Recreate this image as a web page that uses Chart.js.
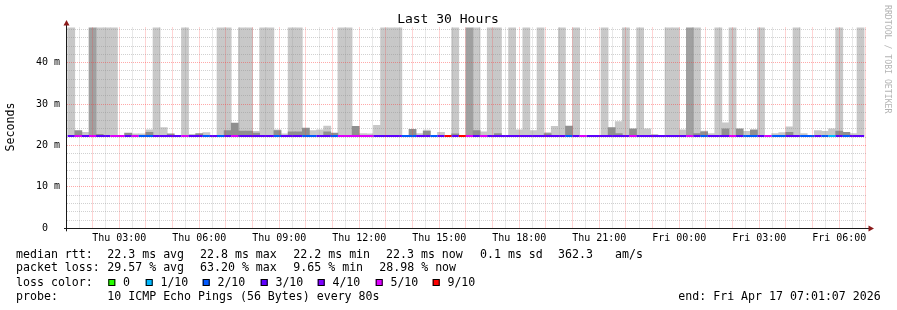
<!DOCTYPE html>
<html><head><meta charset="utf-8">
<script src="https://cdn.jsdelivr.net/npm/chart.js@4/dist/chart.umd.min.js"></script>
<style>html,body{margin:0;padding:0;background:#fff}canvas{display:block}</style>
</head><body>
<canvas id="c" width="897" height="310"></canvas>
<script>
// ---- time frame (hours since Thu 00:00) ----
const viewStart = 1.039;          // left edge of plot
const viewEnd = 31.039;           // right edge of plot
const firstBinStart = 1.064;      // first 16-minute consolidation bin
const binHours = 16 / 60;

// ---- x tick labels ----
const xTickHours = [3, 6, 9, 12, 15, 18, 21, 24, 27, 30];
const xTickLabels = ['Thu 03:00','Thu 06:00','Thu 09:00','Thu 12:00','Thu 15:00','Thu 18:00','Thu 21:00','Fri 00:00','Fri 03:00','Fri 06:00'];

// ---- y tick labels (ms) ----
const yTickValues = [0, 10, 20, 30, 40];
const yTickLabels = ['0  ', '10 m', '20 m', '30 m', '40 m'];
const yMax = 48.5;

// ---- median rtt per bin (ms) ----
const median = [
22.3,22.3,22.3,22.3,22.3,22.3,22.3,22.3,22.3,22.3,
22.3,22.3,22.3,22.3,22.3,22.3,22.3,22.3,22.3,22.3,
22.3,22.3,22.3,22.3,22.3,22.3,22.3,22.3,22.3,22.3,
22.3,22.3,22.3,22.3,22.3,22.3,22.3,22.3,22.3,22.3,
22.3,22.3,22.3,22.3,22.3,22.3,22.3,22.3,22.3,22.3,
22.3,22.3,22.3,22.3,22.3,22.3,22.3,22.3,22.3,22.3,
22.3,22.3,22.3,22.3,22.3,22.3,22.3,22.3,22.3,22.3,
22.3,22.3,22.3,22.3,22.3,22.3,22.3,22.3,22.3,22.3,
22.3,22.3,22.3,22.3,22.3,22.3,22.3,22.3,22.3,22.3,
22.3,22.3,22.3,22.3,22.3,22.3,22.3,22.3,22.3,22.3,
22.3,22.3,22.3,22.3,22.3,22.3,22.3,22.3,22.3,22.3,
22.3,22.3];

// ---- outer smoke top per bin (ms), null = none ----
const smokeTop = [
50,null,23.2,null,50,50,50,null,null,22.8,
22.8,23.8,50,24.3,null,null,50,22.7,null,23.1,
null,50,50,null,50,50,23.4,50,50,23.8,
22.8,50,50,null,23.6,23.8,24.7,null,50,50,
null,22.9,22.8,24.9,50,50,50,null,null,22.9,
23.7,null,23.2,null,50,null,null,50,23.3,50,
50,null,50,23.8,50,23.6,50,23.1,24.6,50,
null,50,null,null,null,50,null,25.8,50,null,
50,24.0,22.7,null,50,50,23.8,null,50,23.5,
22.9,50,25.5,50,null,23.4,null,50,null,22.9,
23.1,24.5,50,22.9,null,23.6,23.4,24.0,50,null,
22.9,50];

// ---- inner (dark) smoke top per bin (ms), null = none ----
const darkTop = [
null,23.6,null,50,22.7,null,null,null,23.0,null,
null,23.2,null,null,22.8,null,null,null,22.9,null,
null,null,23.6,25.4,23.5,23.5,23.0,null,null,23.6,
null,23.3,23.3,24.2,null,null,23.3,23.0,null,null,
24.6,null,null,null,null,null,null,null,23.9,null,
23.4,null,null,null,22.8,null,50,23.6,null,null,
22.9,null,null,null,null,null,null,22.9,null,null,
24.7,null,null,null,null,null,24.3,22.9,null,24.0,
null,null,null,null,null,null,null,50,22.9,23.3,
null,null,24.0,null,24.0,null,23.8,null,null,null,
null,23.2,null,null,null,null,null,null,23.5,23.2,
null,null];

// ---- loss level per bin (index into lossLabels) ----
const lossLevel = [
3,5,3,5,3,3,5,5,3,5,
2,2,3,3,3,3,5,3,3,2,
3,2,3,5,3,3,3,3,3,2,
3,3,3,2,2,3,3,2,5,5,
5,5,5,3,3,3,3,2,2,3,
3,2,3,6,3,6,5,3,5,3,
3,3,3,3,3,3,3,3,3,3,
2,3,5,3,3,3,3,3,3,5,
3,3,3,3,3,3,3,5,3,2,
3,3,3,5,3,2,2,3,5,2,
2,3,3,2,2,3,2,1,3,2,
3,3];

const lossLabels = ['0','1/10','2/10','3/10','4/10','5/10','9/10'];
const lossColors = ['#26ff00','#00b8ff','#0059ff','#5e00ff','#7e00ff','#dd00ff','#ff0000'];

// ---- legend texts ----
const rttStats = ['median rtt:', '22.3 ms avg', '22.8 ms max', '22.2 ms min', '22.3 ms now', '0.1 ms sd', '362.3', 'am/s'];
const lossStats = ['packet loss:', '29.57 % avg', '63.20 % max', '9.65 % min', '28.98 % now'];
const probeText = ['probe:', '10 ICMP Echo Pings (56 Bytes) every 80s'];
const endText = 'end: Fri Apr 17 07:01:07 2026';

// ---------------------------------------------------------------
const MONO = '"DejaVu Sans Mono", monospace';
const binCenter = i => firstBinStart + (i + 0.5) * binHours;
const lightPts = [], darkPts = [];
smokeTop.forEach((v, i) => { if (v != null) lightPts.push({x: binCenter(i), y: [median[i], v]}); });
darkTop.forEach((v, i) => { if (v != null) darkPts.push({x: binCenter(i), y: [median[i], v]}); });
const medianPts = median.map((m, i) => ({x: firstBinStart + i * binHours, y: m}));
medianPts.push({x: firstBinStart + median.length * binHours, y: median[median.length - 1]});

const MINOR = 'rgba(140,140,140,0.4)';
const MAJOR = 'rgba(255,40,40,0.4)';

const decor = {
  id: 'decor',
  afterDraw(chart) {
    const ctx = chart.ctx;
    const a = chart.chartArea;
    ctx.save();
    // axes
    ctx.strokeStyle = '#1a1a1a';
    ctx.lineWidth = 1;
    ctx.beginPath();
    ctx.moveTo(64, Math.round(a.bottom) + 0.5); ctx.lineTo(870, Math.round(a.bottom) + 0.5);
    ctx.moveTo(Math.round(a.left) - 0.5, a.bottom + 3); ctx.lineTo(Math.round(a.left) - 0.5, 24);
    ctx.stroke();
    // arrows
    ctx.fillStyle = '#8b1a1a';
    ctx.beginPath();
    ctx.moveTo(66.5, 20); ctx.lineTo(63.5, 25.5); ctx.lineTo(69.5, 25.5); ctx.closePath(); ctx.fill();
    ctx.beginPath();
    ctx.moveTo(874, 228.5); ctx.lineTo(868.5, 225.5); ctx.lineTo(868.5, 231.5); ctx.closePath(); ctx.fill();

    ctx.fillStyle = '#000';
    ctx.textBaseline = 'middle';
    // title
    ctx.font = '13px ' + MONO;
    ctx.textAlign = 'center';
    ctx.fillText('Last 30 Hours', 448, 19.5);
    // y title
    ctx.font = '11.6px ' + MONO;
    ctx.save();
    ctx.translate(11, 127);
    ctx.rotate(-Math.PI / 2);
    ctx.fillText('Seconds', 0, 0);
    ctx.restore();
    // watermark
    ctx.save();
    ctx.fillStyle = '#b4b4b4';
    ctx.font = '8.2px ' + MONO;
    ctx.translate(887, 5);
    ctx.rotate(Math.PI / 2);
    ctx.textAlign = 'left';
    ctx.fillText('RRDTOOL / TOBI OETIKER', 0, 0);
    ctx.restore();

    // legend rows
    ctx.font = '11.6px ' + MONO;
    ctx.textAlign = 'left';
    const rttX = [16, 107.3, 200, 293.3, 386, 480, 558, 615];
    rttStats.forEach((t, i) => ctx.fillText(t, rttX[i], 254.5));
    const lossX = [16, 107.3, 200, 293.3, 379.3];
    lossStats.forEach((t, i) => ctx.fillText(t, lossX[i], 268));
    ctx.fillText('loss color:', 16, 282.5);
    const boxX = [108.3, 145.7, 202.7, 260.7, 317.7, 375.7, 432.7];
    lossLabels.forEach((t, i) => {
      ctx.fillStyle = lossColors[i];
      ctx.fillRect(boxX[i], 279, 7, 7);
      ctx.strokeStyle = '#000';
      ctx.strokeRect(boxX[i] + 0.5, 279.5, 6, 6);
      ctx.fillStyle = '#000';
      ctx.fillText(t, boxX[i] + 14.7, 282.5);
    });
    ctx.fillText(probeText[0], 16, 296.5);
    ctx.fillText(probeText[1], 107.3, 296.5);
    ctx.fillText(endText, 678.3, 296.5);
    ctx.restore();
  }
};

new Chart(document.getElementById('c'), {
  type: 'bar',
  data: {
    datasets: [
      {
        type: 'line', label: 'median', data: medianPts, stepped: 'after',
        borderWidth: 2, pointRadius: 0, borderColor: lossColors[3],
        segment: { borderColor: c => lossColors[lossLevel[c.p0DataIndex]] || lossColors[3] },
        order: 0
      },
      {
        type: 'bar', label: 'inner smoke', data: darkPts, grouped: false,
        backgroundColor: c => (c.raw && c.raw.y[1] >= yMax) ? '#a0a0a0' : '#8f8f8f',
        barPercentage: 1, categoryPercentage: 1, borderWidth: 0, order: 1
      },
      {
        type: 'bar', label: 'outer smoke', data: lightPts, grouped: false,
        backgroundColor: '#c8c8c8',
        barPercentage: 1, categoryPercentage: 1, borderWidth: 0, order: 2
      }
    ]
  },
  options: {
    responsive: false, animation: false, devicePixelRatio: 1,
    layout: { padding: { left: 0, right: 30, top: 27.5, bottom: 0 } },
    plugins: { legend: { display: false }, tooltip: { enabled: false }, title: { display: false } },
    scales: {
      x: {
        type: 'linear', min: viewStart, max: viewEnd, offset: false,
        grid: {
          offset: false, drawTicks: false, z: 1, lineWidth: 1,
          color: c => {
            const v = c.tick ? c.tick.value : NaN;
            if (Math.abs(v * 2 - Math.round(v * 2)) > 1e-6) return 'rgba(0,0,0,0)';
            return Number.isInteger(v) ? MAJOR : MINOR;
          }
        },
        border: { display: false, dash: [1, 1] },
        ticks: {
          autoSkip: false, maxRotation: 0, minRotation: 0, padding: 4, color: '#000',
          font: { family: MONO, size: 10 },
          callback: v => { const k = xTickHours.indexOf(v); return k >= 0 ? xTickLabels[k] : ''; }
        },
        afterBuildTicks: s => {
          const t = [];
          for (let h = Math.ceil(viewStart * 2) / 2; h <= viewEnd; h += 0.5) t.push({ value: h });
          s.ticks = t;
        },
        afterFit: s => { s.height = 81.7; }
      },
      y: {
        min: 0, max: yMax,
        grid: {
          drawTicks: false, z: 1, lineWidth: 1,
          color: c => {
            const v = c.tick ? c.tick.value : NaN;
            if (v === 0 || v % 2 !== 0) return 'rgba(0,0,0,0)';
            return v % 10 === 0 ? MAJOR : MINOR;
          }
        },
        border: { display: false, dash: [1, 1] },
        ticks: {
          autoSkip: false, padding: 7, color: '#000',
          font: { family: MONO, size: 10 },
          callback: v => { const k = yTickValues.indexOf(v); return k >= 0 ? yTickLabels[k] : ''; }
        },
        afterBuildTicks: s => {
          const t = [];
          for (let v = 0; v <= 48; v += 2) t.push({ value: v });
          s.ticks = t;
        },
        afterFit: s => { s.width = 67; }
      }
    }
  },
  plugins: [decor]
});
</script>
</body></html>
